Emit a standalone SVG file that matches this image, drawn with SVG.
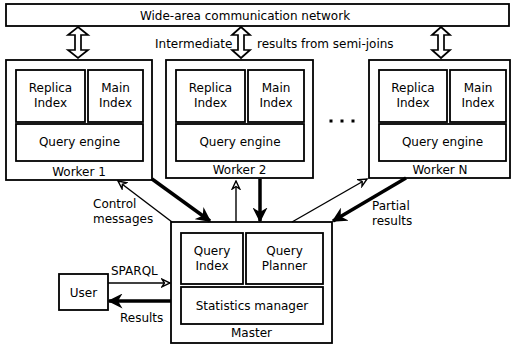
<svg xmlns="http://www.w3.org/2000/svg" width="512" height="348" viewBox="0 0 512 348">
<defs>
<style>
text{font-family:"DejaVu Sans","Liberation Sans",sans-serif;font-size:12px;fill:#000}
.c{text-anchor:middle}
.b{fill:#fff;stroke:#000;stroke-width:1.8}
.thin{stroke:#000;stroke-width:1.4;fill:none}
.thick{stroke:#000;stroke-width:3.5;fill:none}
.dbl{fill:#fff;stroke:#000;stroke-width:1.7;stroke-linejoin:miter}
</style>
<marker id="open" viewBox="0 0 10 10" refX="9" refY="5" markerWidth="10" markerHeight="10" markerUnits="userSpaceOnUse" orient="auto">
<path d="M1,1.2 L9,5 L1,8.8 L3.5,5 Z" fill="#fff" stroke="#000" stroke-width="1.4"/>
</marker>
<marker id="fill" viewBox="0 0 10 10" refX="9" refY="5" markerWidth="15" markerHeight="15" markerUnits="userSpaceOnUse" orient="auto">
<path d="M0,0 L10,5 L0,10 L3,5 Z" fill="#000"/>
</marker>
</defs>

<g id="network">
<rect class="b" x="6" y="4" width="503" height="22"/>
<text class="c" x="245" y="19.5">Wide-area communication network</text>
</g>

<g id="worker1">
<rect class="b" x="6" y="60" width="146" height="120"/>
<rect class="b" x="16" y="70" width="69" height="52"/>
<text class="c" x="50.5" y="92">Replica</text>
<text class="c" x="50.5" y="107">Index</text>
<rect class="b" x="88" y="70" width="55" height="52"/>
<text class="c" x="115.5" y="92">Main</text>
<text class="c" x="115.5" y="107">Index</text>
<rect class="b" x="16" y="124" width="127" height="37"/>
<text class="c" x="79.5" y="146">Query engine</text>
<text class="c" x="79" y="176">Worker 1</text>
</g>

<g id="worker2">
<rect class="b" x="166" y="60" width="147" height="118"/>
<rect class="b" x="176" y="70" width="69" height="52"/>
<text class="c" x="210.5" y="92">Replica</text>
<text class="c" x="210.5" y="107">Index</text>
<rect class="b" x="248" y="70" width="56" height="52"/>
<text class="c" x="276" y="92">Main</text>
<text class="c" x="276" y="107">Index</text>
<rect class="b" x="176" y="124" width="128" height="37"/>
<text class="c" x="240" y="146">Query engine</text>
<text class="c" x="239.5" y="174">Worker 2</text>
</g>

<g id="dots">
<rect x="329.5" y="119.5" width="3" height="3"/>
<rect x="340.5" y="119.5" width="3" height="3"/>
<rect x="351.5" y="119.5" width="3" height="3"/>
</g>

<g id="workerN">
<rect class="b" x="369" y="60" width="141" height="118"/>
<rect class="b" x="379" y="70" width="68" height="52"/>
<text class="c" x="413" y="92">Replica</text>
<text class="c" x="413" y="107">Index</text>
<rect class="b" x="450" y="70" width="56" height="52"/>
<text class="c" x="478" y="92">Main</text>
<text class="c" x="478" y="107">Index</text>
<rect class="b" x="379" y="124" width="127" height="37"/>
<text class="c" x="442.5" y="146">Query engine</text>
<text class="c" x="440" y="174">Worker N</text>
</g>

<g id="master">
<rect class="b" x="171" y="222" width="161" height="121"/>
<rect class="b" x="181" y="233" width="62" height="51"/>
<text class="c" x="212" y="255">Query</text>
<text class="c" x="212" y="270">Index</text>
<rect class="b" x="246" y="233" width="77" height="51"/>
<text class="c" x="284.5" y="255">Query</text>
<text class="c" x="284.5" y="270">Planner</text>
<rect class="b" x="181" y="287" width="142" height="37"/>
<text class="c" x="252" y="309.5">Statistics manager</text>
<text class="c" x="251.5" y="337">Master</text>
</g>

<g id="user">
<rect class="b" x="59" y="274" width="49" height="36"/>
<text class="c" x="83.5" y="296.5">User</text>
</g>

<g id="connectors">
<path class="dbl" d="M78,27 L88,35 L81,35 L81,50 L88,50 L78,58 L68,50 L75,50 L75,35 L68,35 Z"/>
<path class="dbl" d="M241,27 L250,35 L244,35 L244,50 L250,50 L241,58 L232,50 L238,50 L238,35 L232,35 Z"/>
<path class="dbl" d="M441,27 L450,35 L444,35 L444,50 L450,50 L441,58 L432,50 L438,50 L438,35 L432,35 Z"/>

<line class="thin" x1="172" y1="222" x2="118" y2="181" marker-end="url(#open)"/>
<line class="thick" x1="152" y1="179" x2="210" y2="221" marker-end="url(#fill)"/>
<line class="thin" x1="236" y1="222" x2="236" y2="181" marker-end="url(#open)"/>
<line class="thick" x1="260" y1="179" x2="260" y2="221" marker-end="url(#fill)"/>
<line class="thin" x1="292" y1="222" x2="367" y2="179" marker-end="url(#open)"/>
<line class="thick" x1="406" y1="178" x2="333" y2="221" marker-end="url(#fill)"/>
<line class="thin" x1="108" y1="283" x2="170" y2="283" marker-end="url(#open)"/>
<line class="thick" x1="171" y1="301" x2="109" y2="301" marker-end="url(#fill)"/>

<text x="155" y="47.5">Intermediate</text>
<text x="257" y="47.5">results from semi-joins</text>
<text x="93" y="207.5">Control</text>
<text x="93" y="222.5">messages</text>
<text x="372" y="210">Partial</text>
<text x="372" y="225">results</text>
<text x="111" y="275">SPARQL</text>
<text x="120" y="321.5">Results</text>
</g>
</svg>
